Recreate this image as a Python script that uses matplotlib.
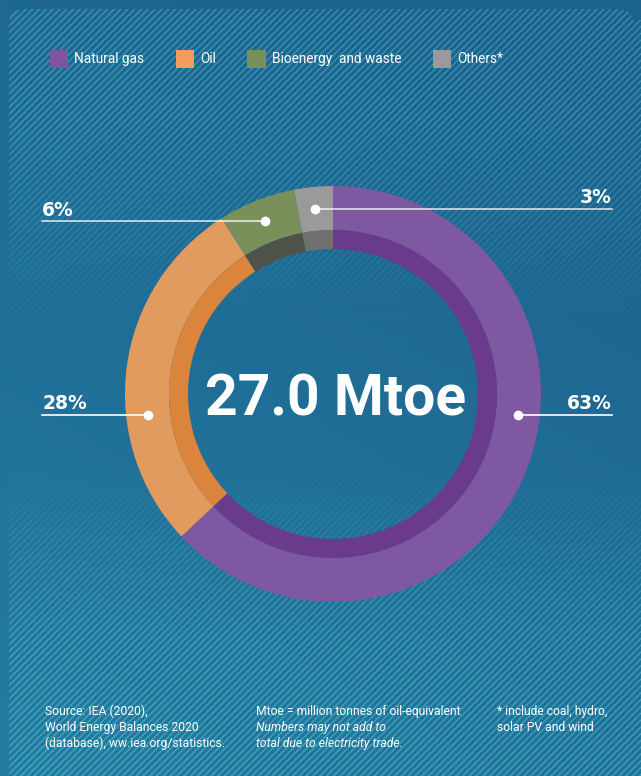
import numpy as np
import matplotlib
matplotlib.use('Agg')
import matplotlib.pyplot as plt
from matplotlib.patches import Patch

# data
categories = ['Natural gas', 'Oil', 'Bioenergy  and waste', 'Others*']
shares = [63, 28, 6, 3]
share_labels = ['63%', '28%', '6%', '3%']
total_label = '27.0 Mtoe'
legend_colors = ['#7E56A0', '#F59B5E', '#79905B', '#9A9A9A']
outer_colors = ['#7E58A0', '#E29B5E', '#79905B', '#9A9A9A']
inner_colors = ['#6A3A8D', '#DB843C', '#4F5248', '#707070']
footer_cols = [
    ['Source: IEA (2020),', 'World Energy Balances 2020', '(database), ww.iea.org/statistics.'],
    ['Mtoe = million tonnes of oil-equivalent', 'Numbers may not add to', 'total due to electricity trade.'],
    ['* include coal, hydro,', 'solar PV and wind'],
]

W, H = 641, 776
NARROW = ['Roboto', 'DejaVu Sans']

# background: blue gradient with diagonal stripes fading out in the middle
yy, xx = np.mgrid[0:H, 0:W].astype(float)
t = np.clip(0.75 * yy / H + 0.35 * (1 - xx / W) - 0.1, 0, 1)[..., None]
top = np.array([28, 98, 143]) / 255
bot = np.array([36, 123, 160]) / 255
bg = top * (1 - t) + bot * t

P = 6.8 / np.sqrt(2)
d = ((xx + yy) / np.sqrt(2)) % P
d = np.minimum(d, P - d)
stripe = np.clip(1.2 - d, 0, 1)
fade = np.clip((320 - yy) / 200, 0, 1) + np.clip((yy - 470) / 170, 0, 1)
inside = (xx >= 9) & (yy >= 9)
rr = 11
corner_l = (xx < 9 + rr) & (yy < 9 + rr) & ((xx - 9 - rr) ** 2 + (yy - 9 - rr) ** 2 > rr ** 2)
corner_r = (xx > W - 9 - rr) & (yy < 9 + rr) & ((xx - (W - 9 - rr)) ** 2 + (yy - 9 - rr) ** 2 > rr ** 2)
mask = (inside & ~corner_l & ~corner_r).astype(float)
bg = bg + (np.array([28, 46, 30]) / 255) * (stripe * fade * mask)[..., None]
bg = np.clip(bg, 0, 1)

fig = plt.figure(figsize=(W / 100, H / 100), dpi=100)
ax_bg = fig.add_axes([0, 0, 1, 1])
ax_bg.imshow(bg, aspect='auto', extent=[0, W, H, 0], interpolation='nearest')
ax_bg.set_axis_off()

# donut, centre (333, 394) px, outer radius 208 px
R = 208
cxp, cyp = 333, 394
ax = fig.add_axes([(cxp - R) / W, (H - cyp - R) / H, 2 * R / W, 2 * R / H])
ax.pie(shares, colors=outer_colors, radius=1, startangle=90, counterclock=False,
       wedgeprops=dict(width=44 / R, linewidth=0))
ax.pie(shares, colors=inner_colors, radius=164 / R, startangle=90, counterclock=False,
       wedgeprops=dict(width=19 / R, linewidth=0))
ax.set_xlim(-1, 1)
ax.set_ylim(-1, 1)
ax.set_axis_off()

# label dots sit in the middle of the outer ring
r_dot = (208 + 164) / 2 / R
cum = np.cumsum([0] + shares[:-1])
mid_angles = [90 - 360 * (c + s / 2) / 100 for c, s in zip(cum, shares)]
dot_angles = [-6.4, 186.4, mid_angles[2], mid_angles[3]]
sides = ['right', 'left', 'left', 'right']
line_alpha = [1, 1, 0.8, 0.8]
x_left, x_right = (42 - cxp) / R, (612 - cxp) / R

for lab, ang, side, la in zip(share_labels, dot_angles, sides, line_alpha):
    a = np.radians(ang)
    x0, y0 = r_dot * np.cos(a), r_dot * np.sin(a)
    x1 = x_left if side == 'left' else x_right
    ax.plot([x0, x1], [y0, y0], color='white', lw=1.2, alpha=la, clip_on=False, zorder=3)
    ax.plot([x0], [y0], 'o', color='white', ms=7, mec='none', clip_on=False, zorder=4)
    ax.annotate(lab, (x1, y0), xytext=(0, 4), textcoords='offset points',
                ha=side, va='baseline', color='white', fontsize=13.5,
                fontweight='bold', family='DejaVu Sans', annotation_clip=False)

ax.text(0.01, -0.101, total_label, ha='center', va='baseline', color='white',
        fontsize=41, fontweight='bold', family=NARROW)

# legend
handles = [Patch(facecolor=c, edgecolor='none') for c in legend_colors]
fig.legend(handles, categories, loc='center left', bbox_to_anchor=(50 / W, 1 - 59 / H),
           ncol=4, frameon=False, borderpad=0, handlelength=1.35, handleheight=1.55,
           handletextpad=0.45, columnspacing=2.3, borderaxespad=0,
           prop=dict(family=NARROW, size=9.8), labelcolor='white')

# footer notes
col_x = [45, 256, 497]
base_y = [715, 731, 747]
for ci, (x, lines) in enumerate(zip(col_x, footer_cols)):
    for li, line in enumerate(lines):
        style = 'italic' if (ci == 1 and li > 0) else 'normal'
        fig.text(x / W, 1 - base_y[li] / H, line, ha='left', va='baseline',
                 color='white', fontsize=8.7, style=style, family=NARROW)

fig.savefig('out.png', dpi=100)
